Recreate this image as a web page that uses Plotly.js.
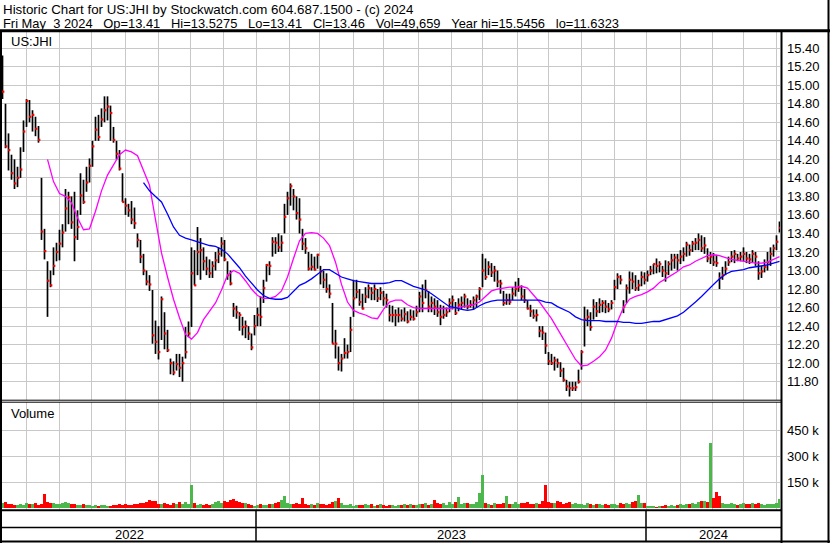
<!DOCTYPE html>
<html><head><meta charset="utf-8">
<script src="https://cdn.plot.ly/plotly-3.0.1.min.js"></script>
<style>html,body{margin:0;padding:0;background:#fff;}#chart{width:830px;height:543px;}</style>
</head><body><div id="chart"></div>
<script>
// ---------------- data ----------------
const firstSampleDate = '2022-05-10';   // first plotted session
const tradingDaysPerSample = 2;

const high = [
15.32,14.80,14.48,14.25,14.20,14.12,14.33,14.62,14.85,14.84,
14.73,14.66,14.56,14.00,13.45,13.10,13.00,13.25,13.30,13.44,
13.50,13.88,13.85,13.80,13.85,13.65,14.05,13.98,14.12,14.21,
14.40,14.66,14.68,14.75,14.88,14.88,14.78,14.55,14.40,14.30,
14.05,13.78,13.72,13.75,13.68,13.40,13.33,13.18,13.00,12.95,
12.79,12.46,12.40,12.72,12.55,12.36,12.05,12.02,12.10,12.10,
12.07,12.39,12.45,13.25,13.22,13.47,13.35,13.25,13.15,13.12,
13.10,13.20,13.25,13.36,13.33,13.10,13.00,12.65,12.62,12.55,
12.50,12.46,12.40,12.32,12.52,12.60,12.72,12.90,13.07,13.10,
13.36,13.36,13.40,13.38,13.72,13.85,13.94,13.88,13.80,13.78,
13.45,13.35,13.20,13.18,13.15,13.18,13.05,13.00,12.97,12.85,
12.65,12.36,12.18,12.10,12.27,12.20,12.50,12.90,12.90,12.80,
12.75,12.82,12.85,12.82,12.85,12.80,12.82,12.78,12.75,12.63,
12.62,12.58,12.60,12.58,12.60,12.56,12.58,12.57,12.62,12.77,
12.85,12.90,12.78,12.72,12.70,12.68,12.63,12.62,12.60,12.70,
12.73,12.66,12.70,12.72,12.75,12.70,12.68,12.72,12.74,12.82,
13.18,13.13,13.10,13.08,13.05,13.00,12.90,12.78,12.75,12.75,
12.82,12.88,12.92,12.84,12.80,12.68,12.63,12.58,12.58,12.40,
12.40,12.33,12.12,12.10,12.07,12.05,12.01,11.95,11.82,11.80,
11.80,11.80,11.93,12.14,12.61,12.58,12.55,12.69,12.66,12.70,
12.68,12.68,12.65,12.68,12.90,12.97,12.95,12.68,12.85,12.99,
12.98,12.95,12.90,12.99,12.98,13.00,13.05,13.07,13.13,13.10,
13.05,13.11,13.10,13.18,13.18,13.18,13.22,13.25,13.31,13.28,
13.32,13.35,13.40,13.38,13.36,13.24,13.20,13.19,13.17,12.98,
13.04,13.10,13.15,13.21,13.22,13.18,13.20,13.25,13.20,13.18,
13.22,13.20,13.10,13.05,13.12,13.20,13.25,13.28,13.38,13.53];

const low = [
14.85,14.32,14.08,13.98,13.88,13.90,14.00,14.28,14.55,14.60,
14.50,14.45,14.38,13.33,13.12,12.50,12.82,12.95,13.10,13.11,
13.25,13.42,13.50,13.45,13.10,13.33,13.60,13.72,13.85,13.95,
14.12,14.40,14.40,14.55,14.60,14.62,14.40,14.38,14.20,14.08,
13.74,13.60,13.58,13.50,13.45,13.25,13.08,12.95,12.84,12.78,
12.21,12.10,12.04,12.25,12.15,12.12,11.88,11.87,11.92,11.85,
11.80,12.05,12.28,12.39,12.84,12.95,12.90,13.00,12.95,12.92,
12.92,13.00,13.08,13.15,13.10,12.90,12.84,12.50,12.48,12.35,
12.30,12.27,12.25,12.14,12.30,12.40,12.40,12.65,12.88,12.95,
13.15,13.18,13.20,13.20,13.40,13.60,13.70,13.65,13.55,13.40,
13.22,13.18,13.00,13.00,13.00,13.02,12.85,12.81,12.76,12.70,
12.21,12.05,11.92,11.91,12.05,12.05,12.12,12.50,12.70,12.62,
12.58,12.65,12.70,12.68,12.68,12.66,12.68,12.62,12.60,12.45,
12.44,12.40,12.44,12.45,12.45,12.43,12.46,12.46,12.50,12.55,
12.55,12.70,12.55,12.55,12.52,12.50,12.41,12.48,12.50,12.55,
12.58,12.52,12.56,12.58,12.60,12.58,12.60,12.58,12.60,12.68,
12.82,12.90,12.95,12.93,12.88,12.82,12.75,12.62,12.63,12.63,
12.68,12.72,12.77,12.68,12.65,12.58,12.50,12.48,12.45,12.28,
12.25,12.10,11.98,11.98,11.92,11.95,11.85,11.80,11.70,11.64,
11.70,11.70,11.78,11.93,12.18,12.40,12.35,12.47,12.50,12.54,
12.55,12.54,12.55,12.58,12.68,12.80,12.85,12.54,12.65,12.75,
12.80,12.78,12.78,12.83,12.85,12.88,12.95,12.96,12.97,12.98,
12.93,12.88,12.95,13.00,13.02,13.00,13.07,13.10,13.15,13.16,
13.20,13.22,13.22,13.20,13.18,13.09,13.07,13.05,13.04,12.80,
12.90,12.95,13.05,13.09,13.08,13.10,13.10,13.10,13.08,13.07,
13.09,13.05,12.90,12.92,12.98,13.00,13.05,13.15,13.22,13.41];

const close = [
14.93,14.34,14.30,14.05,13.94,14.00,14.09,14.50,14.83,14.66,
14.68,14.53,14.41,13.42,13.21,12.89,12.84,13.05,13.20,13.29,
13.41,13.67,13.79,13.52,13.36,13.47,13.81,13.74,13.95,14.13,
14.34,14.52,14.44,14.63,14.73,14.77,14.70,14.41,14.26,14.10,
13.74,13.70,13.65,13.55,13.51,13.33,13.15,13.00,12.88,12.85,
12.30,12.23,12.12,12.69,12.32,12.14,12.00,11.90,11.99,11.95,
12.00,12.12,12.32,12.97,12.84,13.20,13.22,13.10,13.02,12.97,
13.05,13.11,13.18,13.29,13.12,12.95,12.86,12.59,12.55,12.52,
12.39,12.40,12.32,12.17,12.40,12.52,12.50,12.81,13.06,13.05,
13.31,13.30,13.25,13.30,13.58,13.78,13.91,13.80,13.62,13.55,
13.29,13.24,13.02,13.04,13.01,13.17,12.99,12.90,12.80,12.75,
12.21,12.21,12.00,12.05,12.11,12.12,12.36,12.70,12.77,12.66,
12.59,12.72,12.81,12.76,12.80,12.70,12.76,12.70,12.68,12.52,
12.52,12.52,12.52,12.48,12.53,12.45,12.50,12.48,12.55,12.72,
12.65,12.79,12.61,12.65,12.61,12.55,12.50,12.52,12.55,12.65,
12.68,12.54,12.63,12.65,12.72,12.61,12.63,12.68,12.72,12.80,
13.00,12.93,13.04,12.98,13.00,12.88,12.86,12.65,12.68,12.66,
12.75,12.80,12.82,12.72,12.68,12.59,12.56,12.51,12.52,12.35,
12.33,12.19,12.02,12.00,12.03,12.00,11.92,11.82,11.75,11.73,
11.73,11.74,11.80,12.12,12.47,12.50,12.39,12.61,12.56,12.63,
12.65,12.61,12.58,12.65,12.82,12.93,12.90,12.61,12.81,12.90,
12.88,12.81,12.84,12.93,12.90,12.95,13.00,13.07,13.05,13.07,
13.00,12.97,13.07,13.11,13.14,13.11,13.15,13.18,13.28,13.22,
13.29,13.30,13.33,13.24,13.27,13.13,13.15,13.09,13.08,12.92,
12.95,13.02,13.09,13.15,13.18,13.13,13.15,13.18,13.13,13.12,
13.18,13.15,12.97,12.99,13.04,13.09,13.18,13.24,13.31,13.46];

// volume in thousands of shares
const volumeK = [
30,34,22,26,20,18,24,16,28,22,
25,30,20,26,80,32,28,30,24,22,
28,34,30,22,26,20,18,24,16,20,
14,18,12,16,20,14,12,18,15,22,
20,24,18,16,26,22,30,28,32,45,
38,40,26,22,30,24,20,28,26,32,
22,34,26,130,28,20,24,18,22,16,
24,36,38,30,42,36,45,52,38,34,
30,28,24,20,14,18,22,16,20,24,
26,30,36,44,70,30,26,24,28,22,
58,26,20,24,18,30,22,26,20,24,
32,38,55,28,20,18,22,14,16,20,
18,24,20,26,14,16,22,18,12,20,
16,14,20,18,22,16,24,20,18,26,
22,30,20,26,45,28,24,30,20,34,
26,36,65,24,30,28,24,22,35,85,
190,30,24,20,28,22,26,30,70,24,
22,34,26,30,28,36,24,22,30,26,
40,135,36,30,28,38,32,26,30,34,
24,30,22,26,20,28,24,18,22,26,
20,24,18,22,26,20,28,24,30,26,
34,38,75,30,28,14,10,12,8,14,
10,16,12,18,14,20,22,18,26,24,
30,26,34,38,40,36,375,60,95,70,
28,24,22,30,26,20,24,28,22,26,
30,24,28,22,20,26,24,22,30,50];

// moving averages, one value every 2 samples, first value at sample 15
const maFirstSample = 15;
const maShort = [
14.20,13.96,13.83,13.80,13.73,13.57,13.44,13.45,13.64,13.86,
14.03,14.14,14.25,14.30,14.28,14.24,14.09,13.92,13.55,13.19,
12.93,12.69,12.49,12.31,12.26,12.33,12.47,12.56,12.65,12.79,
12.95,13.00,12.97,12.89,12.80,12.73,12.70,12.70,12.72,12.78,
12.93,13.13,13.32,13.40,13.41,13.40,13.35,13.27,13.09,12.85,
12.66,12.57,12.54,12.52,12.49,12.48,12.58,12.66,12.68,12.68,
12.63,12.60,12.59,12.59,12.59,12.59,12.59,12.59,12.60,12.61,
12.62,12.63,12.66,12.72,12.78,12.80,12.81,12.82,12.82,12.83,
12.81,12.74,12.66,12.57,12.48,12.37,12.26,12.15,12.04,11.97,
11.98,12.02,12.07,12.14,12.27,12.45,12.60,12.69,12.72,12.74,
12.77,12.81,12.87,12.91,12.95,12.99,13.04,13.06,13.10,13.13,
13.16,13.17,13.16,13.14,13.12,13.11,13.10,13.09,13.08,13.08,
13.09,13.12,13.15];
const maLongOffset = 16;   // long average starts 16 points later
const maLong = [
13.95,13.86,13.80,13.74,13.61,13.47,13.38,13.35,13.33,13.31,
13.29,13.27,13.26,13.23,13.18,13.11,13.03,12.94,12.86,12.79,
12.73,12.70,12.69,12.69,12.71,12.77,12.84,12.87,12.91,12.96,
13.01,13.01,12.97,12.93,12.91,12.89,12.88,12.87,12.86,12.86,
12.86,12.87,12.89,12.89,12.86,12.83,12.81,12.79,12.75,12.70,
12.65,12.61,12.60,12.58,12.57,12.58,12.62,12.65,12.67,12.68,
12.68,12.68,12.68,12.68,12.68,12.68,12.68,12.66,12.65,12.61,
12.58,12.55,12.50,12.47,12.46,12.46,12.46,12.45,12.45,12.45,
12.44,12.44,12.43,12.43,12.44,12.45,12.45,12.47,12.49,12.51,
12.55,12.60,12.66,12.72,12.79,12.85,12.91,12.96,12.99,13.00,
13.01,13.03,13.04,13.05,13.06,13.08,13.10];

const volTickVals = [150000, 300000, 450000];
const volTickText = ['150 k', '300 k', '450 k'];
const yearLabels = ['2022', '2023', '2024'];
const headerLine1 = 'Historic Chart for US:JHI by Stockwatch.com 604.687.1500 - (c) 2024';
const headerFields = ['Fri May\u00a0\u00a03 2024', 'Op=13.41', 'Hi=13.5275', 'Lo=13.41', 'Cl=13.46', 'Vol=49,659', 'Year hi=15.5456', 'lo=11.6323'];

// ---------------- helpers ----------------
const W = 830, H = 543;
const px = x => x / W;           // pixel -> paper x
const py = y => 1 - y / H;       // pixel -> paper y
const start = new Date(firstSampleDate + 'T00:00:00Z');
function tradingIndex(d) {       // weekdays between start and d
  let s = new Date(start.getTime()), n = 0;
  while (s < d) { const wd = s.getUTCDay(); if (wd !== 0 && wd !== 6) n++; s.setUTCDate(s.getUTCDate() + 1); }
  return n;
}
function firstWeekday(y, m) {
  const d = new Date(Date.UTC(y, m, 1));
  while (d.getUTCDay() === 0 || d.getUTCDay() === 6) d.setUTCDate(d.getUTCDate() + 1);
  return d;
}
const monthTicks = [];
for (let y = 2022, m = 5; y < 2024 || m <= 4; ) {
  monthTicks.push(tradingIndex(firstWeekday(y, m)));
  m++; if (m === 12) { m = 0; y++; }
}
const yearBounds = [tradingIndex(firstWeekday(2023, 0)), tradingIndex(firstWeekday(2024, 0))];

const N = close.length;
const xs = close.map((_, i) => i * tradingDaysPerSample);
const xRange = [-1 / 3, (N - 1) * tradingDaysPerSample + 1 / 3];

// high-low bars as segments
const segX = [], segY = [];
for (let i = 0; i < N; i++) { segX.push(xs[i], xs[i], null); segY.push(low[i], high[i], null); }
const closeX = xs.map(x => x + 0.5);

const maX = maShort.map((_, k) => (maFirstSample + 2 * k) * tradingDaysPerSample);
const maLongX = maX.slice(maLongOffset, maLongOffset + maLong.length);

const volume = volumeK.map(v => v * 1000);
const volColors = close.map((c, i) => (i === 0 || c >= close[i - 1]) ? '#4cb84c' : '#ff0000');

const FONT = 'Arial, "Liberation Sans", sans-serif';

const traces = [
  { type: 'scatter', mode: 'lines', x: segX, y: segY, xaxis: 'x', yaxis: 'y',
    line: { color: '#000000', width: 1.7 }, hoverinfo: 'skip' },
  { type: 'scatter', mode: 'markers', x: closeX, y: close, xaxis: 'x', yaxis: 'y',
    marker: { symbol: 'square', size: 2.2, color: '#ff0000', line: { width: 0 } }, hoverinfo: 'skip' },
  { type: 'scatter', mode: 'lines', x: maX, y: maShort, xaxis: 'x', yaxis: 'y',
    line: { color: '#ff00ff', width: 1.3 }, hoverinfo: 'skip' },
  { type: 'scatter', mode: 'lines', x: maLongX, y: maLong, xaxis: 'x', yaxis: 'y',
    line: { color: '#0000ff', width: 1.3 }, hoverinfo: 'skip' },
  { type: 'bar', x: xs, y: volume, xaxis: 'x2', yaxis: 'y2', width: 1.6,
    marker: { color: volColors, line: { width: 0 } }, hoverinfo: 'skip' }
];

const gridColor = '#c8c8c8';
const xCommon = {
  range: xRange, tickmode: 'array', tickvals: monthTicks, showticklabels: false,
  showgrid: true, gridcolor: gridColor, gridwidth: 1, zeroline: false, showline: false, ticks: '', fixedrange: true
};

const annotations = [];
function txt(text, x, y, xanchor, size) {
  annotations.push({ text, x: px(x), y: py(y), xref: 'paper', yref: 'paper', xanchor: xanchor || 'left',
    yanchor: 'middle', showarrow: false, font: { family: FONT, size: size || 13.33, color: '#000' } });
}
txt(headerLine1, 1, 9.5);
txt(headerFields.join('\u00a0\u00a0\u00a0'), 1, 23.5, 'left', 12.9);
txt('US:JHI', 8.5, 41.5, 'left', 13);
txt('Volume', 8.5, 413.5, 'left', 13);
// year labels centred between year separators
const yb = [xRange[0], yearBounds[0], yearBounds[1], xRange[1]];
yearLabels.forEach((t, i) => {
  annotations.push({ text: t, x: (yb[i] + yb[i + 1]) / 2, xref: 'x', y: py(534.5), yref: 'paper',
    xanchor: 'center', yanchor: 'middle', showarrow: false, font: { family: FONT, size: 13, color: '#000' } });
});

const shapes = [];
function hline(y, x0, x1, w) { shapes.push({ type: 'line', xref: 'paper', yref: 'paper', x0: px(x0), x1: px(x1), y0: py(y), y1: py(y), line: { color: '#000', width: w } }); }
function vline(x, y0, y1, w) { shapes.push({ type: 'line', xref: 'paper', yref: 'paper', x0: px(x), x1: px(x), y0: py(y0), y1: py(y1), line: { color: '#000', width: w } }); }
hline(30.8, 0, 830, 3);         // header separator
vline(1, 30, 543, 2);           // left border
vline(828.5, 0, 543, 2);        // right border
vline(781.5, 30, 543, 2);       // axis separator
hline(400.2, 0, 781, 1);        // price / volume double line
hline(402.2, 0, 781, 1);
hline(510.2, 0, 781, 2);        // volume bottom
hline(527.4, 0, 781, 1.5);
hline(541.5, 0, 830, 2);
yearBounds.forEach(b => shapes.push({ type: 'line', xref: 'x', yref: 'paper', x0: b, x1: b, y0: py(510), y1: py(541), line: { color: '#000', width: 1.5 } }));

const layout = {
  width: W, height: H, margin: { l: 0, r: 0, t: 0, b: 0, pad: 0 },
  paper_bgcolor: '#ffffff', plot_bgcolor: '#ffffff', showlegend: false,
  font: { family: FONT, size: 13, color: '#000' },
  xaxis: Object.assign({ domain: [px(2), px(780)], anchor: 'y' }, xCommon),
  xaxis2: Object.assign({ domain: [px(2), px(780)], anchor: 'y2', matches: 'x' }, xCommon),
  yaxis: { domain: [py(400), py(32)], range: [11.6025, 15.5745], side: 'right', anchor: 'x',
    tick0: 0, dtick: 0.2, tickformat: '.2f', ticks: '', ticklabelstandoff: 6,
    showgrid: true, gridcolor: gridColor, gridwidth: 1, zeroline: false, showline: false,
    tickfont: { family: FONT, size: 13, color: '#000' }, fixedrange: true },
  yaxis2: { domain: [py(510), py(402)], range: [-11500, 611500], side: 'right', anchor: 'x2',
    tickmode: 'array', tickvals: volTickVals, ticktext: volTickText, ticks: '', ticklabelstandoff: 6,
    showgrid: true, gridcolor: gridColor, gridwidth: 1, zeroline: false, showline: false,
    tickfont: { family: FONT, size: 13, color: '#000' }, fixedrange: true },
  bargap: 0,
  annotations, shapes
};

Plotly.newPlot('chart', traces, layout, { staticPlot: true, displayModeBar: false });
</script>
</body></html>
